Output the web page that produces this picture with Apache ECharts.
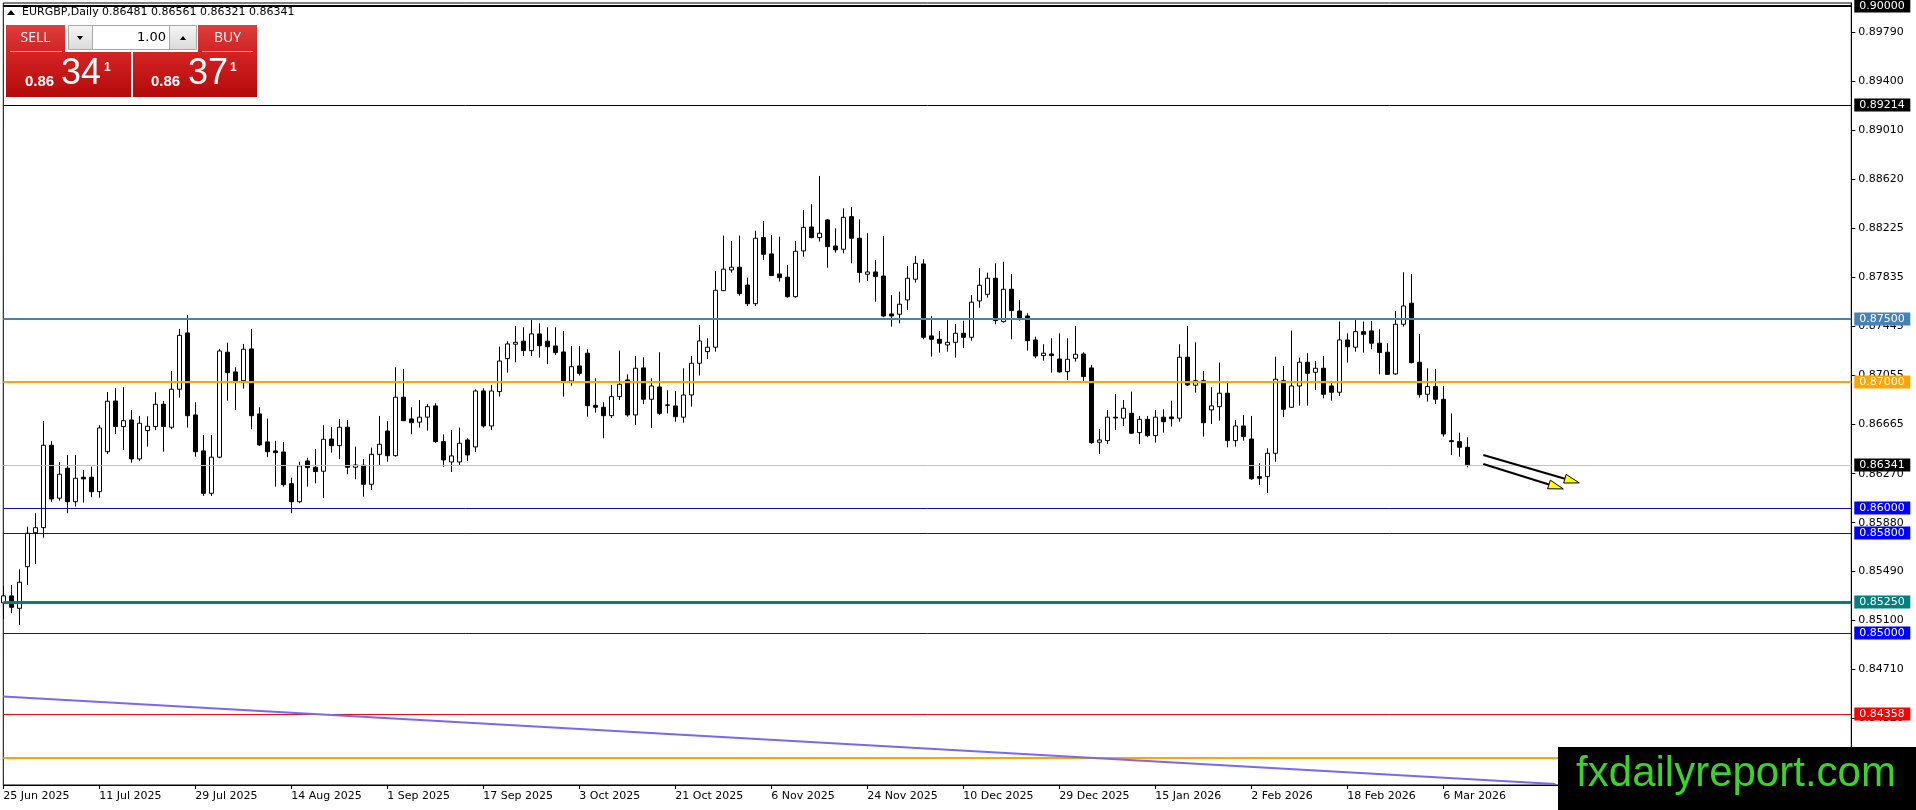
<!DOCTYPE html>
<html>
<head>
<meta charset="utf-8">
<title>EURGBP,Daily</title>
<script src="https://cdn.jsdelivr.net/npm/echarts@6/dist/echarts.min.js"></script>
<style>
html, body { margin: 0; padding: 0; background: #fff; }
#chart { width: 1916px; height: 810px; }
</style>
</head>
<body>
<div id="chart"></div>
<script type="text/javascript">
// daily bars, first bar = 25 Jun 2025
var opens = [0.85240,0.85296,0.85197,0.85529,0.85800,0.85840,0.86497,0.86075,0.86314,0.86047,0.86242,0.86242,0.86127,0.86446,0.86850,0.86646,0.86699,0.86388,0.86614,0.86646,
0.86824,0.86641,0.86944,0.87393,0.86739,0.86452,0.86114,0.86402,0.87239,0.87082,0.87012,0.87265,0.86747,0.86524,0.86452,0.86444,0.86191,0.86047,0.86372,0.86322,
0.86290,0.86547,0.86494,0.86641,0.86322,0.86338,0.86186,0.86425,0.86611,0.86414,0.86880,0.86707,0.86681,0.86721,0.86811,0.86526,0.86364,0.86364,0.86539,0.86484,
0.86930,0.86651,0.86925,0.87188,0.87303,0.87327,0.87252,0.87385,0.87327,0.87289,0.87241,0.87010,0.87130,0.87231,0.86816,0.86800,0.86733,0.86885,0.87018,0.86739,
0.87114,0.86864,0.86962,0.86819,0.86811,0.86721,0.86898,0.87151,0.87244,0.87279,0.87730,0.87895,0.87917,0.87775,0.87626,0.88153,0.88023,0.87863,0.87837,0.87682,
0.88047,0.88238,0.88153,0.88294,0.88086,0.88060,0.88320,0.88148,0.87861,0.87879,0.87847,0.87544,0.87542,0.87656,0.87821,0.87943,0.87369,0.87342,0.87297,0.87318,
0.87390,0.87358,0.87648,0.87701,0.87829,0.87483,0.87741,0.87568,0.87528,0.87337,0.87212,0.87225,0.87185,0.87084,0.87191,0.87225,0.87114,0.86521,0.86534,0.86721,
0.86713,0.86752,0.86598,0.86704,0.86574,0.86721,0.86723,0.86713,0.87199,0.86976,0.87012,0.86779,0.86805,0.86912,0.86534,0.86651,0.86547,0.86247,0.86247,0.86433,
0.87012,0.86800,0.86970,0.87159,0.87079,0.87111,0.86970,0.86920,0.87337,0.87279,0.87403,0.87409,0.87311,0.87239,0.87066,0.87462,0.87630,0.87159,0.86904,0.86965,
0.86864,0.86534,0.86526,0.86481];
var closes = [0.85296,0.85205,0.85405,0.85796,0.85840,0.86497,0.86069,0.86266,0.86047,0.86234,0.86229,0.86127,0.86635,0.86848,0.86646,0.86693,0.86388,0.86673,0.86649,0.86824,
0.86646,0.86944,0.87374,0.86733,0.86446,0.86114,0.86402,0.87249,0.87076,0.87012,0.87263,0.86733,0.86500,0.86446,0.86438,0.86183,0.86047,0.86332,0.86319,0.86287,
0.86545,0.86494,0.86641,0.86322,0.86340,0.86186,0.86425,0.86505,0.86414,0.86880,0.86693,0.86677,0.86721,0.86805,0.86526,0.86380,0.86412,0.86513,0.86420,0.86930,
0.86651,0.86930,0.87169,0.87305,0.87318,0.87252,0.87385,0.87291,0.87283,0.87236,0.87010,0.87124,0.87071,0.86813,0.86800,0.86733,0.86885,0.86984,0.86739,0.87111,
0.86864,0.86970,0.86752,0.86816,0.86725,0.86898,0.87151,0.87329,0.87279,0.87733,0.87901,0.87917,0.87706,0.87626,0.88148,0.88020,0.87850,0.87834,0.87682,0.88044,
0.88235,0.88153,0.88188,0.88081,0.88055,0.88315,0.88148,0.87874,0.87879,0.87842,0.87528,0.87528,0.87622,0.87829,0.87948,0.87358,0.87342,0.87311,0.87318,0.87390,
0.87358,0.87638,0.87773,0.87829,0.87491,0.87741,0.87571,0.87510,0.87331,0.87209,0.87231,0.87212,0.87082,0.87183,0.87223,0.87045,0.86518,0.86539,0.86721,0.86715,
0.86792,0.86593,0.86704,0.86574,0.86721,0.86685,0.86709,0.87199,0.86978,0.87012,0.86677,0.86811,0.86912,0.86534,0.86651,0.86566,0.86230,0.86234,0.86433,0.87024,
0.86784,0.86970,0.87159,0.87071,0.87111,0.86904,0.86920,0.87337,0.87283,0.87403,0.87382,0.87311,0.87236,0.87063,0.87462,0.87608,0.87156,0.86901,0.86965,0.86864,
0.86587,0.86526,0.86481,0.86341];
var lows = [0.85112,0.85158,0.85064,0.85383,0.85551,0.85760,0.86047,0.86055,0.85955,0.86008,0.86040,0.86083,0.86079,0.86428,0.86587,0.86460,0.86358,0.86372,0.86486,0.86619,
0.86446,0.86625,0.86877,0.86638,0.86406,0.86093,0.86093,0.86394,0.86853,0.86779,0.86949,0.86625,0.86492,0.86402,0.86167,0.86167,0.85955,0.86035,0.86167,0.86194,
0.86075,0.86438,0.86386,0.86266,0.86226,0.86087,0.86141,0.86340,0.86366,0.86406,0.86691,0.86585,0.86638,0.86614,0.86516,0.86324,0.86284,0.86332,0.86372,0.86444,
0.86638,0.86619,0.86885,0.87076,0.87159,0.87209,0.87209,0.87196,0.87143,0.87217,0.86885,0.86972,0.87053,0.86725,0.86757,0.86553,0.86713,0.86858,0.86725,0.86659,
0.86824,0.86633,0.86739,0.86752,0.86685,0.86677,0.86805,0.87053,0.87185,0.87244,0.87728,0.87874,0.87690,0.87608,0.87608,0.87975,0.87847,0.87802,0.87674,0.87674,
0.88001,0.88148,0.88121,0.87913,0.88033,0.88028,0.87948,0.87794,0.87807,0.87642,0.87518,0.87443,0.87470,0.87576,0.87794,0.87342,0.87204,0.87236,0.87244,0.87196,
0.87271,0.87331,0.87594,0.87674,0.87462,0.87475,0.87342,0.87491,0.87252,0.87191,0.87172,0.87076,0.87076,0.87018,0.87164,0.87010,0.86510,0.86428,0.86508,0.86619,
0.86651,0.86587,0.86505,0.86561,0.86518,0.86598,0.86646,0.86685,0.86970,0.86917,0.86566,0.86667,0.86693,0.86481,0.86486,0.86534,0.86221,0.86181,0.86117,0.86366,
0.86721,0.86797,0.86813,0.86813,0.86938,0.86872,0.86853,0.86890,0.87156,0.87244,0.87236,0.87263,0.87063,0.87058,0.87058,0.87443,0.87150,0.86877,0.86845,0.86827,
0.86566,0.86420,0.86406,0.86321];
var highs = [0.85375,0.85383,0.85508,0.85848,0.85955,0.86691,0.86529,0.86362,0.86420,0.86420,0.86300,0.86327,0.86657,0.86922,0.86952,0.86960,0.86779,0.86731,0.86728,0.86920,
0.86850,0.87090,0.87425,0.87536,0.86840,0.86579,0.86579,0.87265,0.87315,0.87119,0.87305,0.87425,0.86800,0.86709,0.86532,0.86524,0.86239,0.86366,0.86398,0.86468,
0.86657,0.86643,0.86707,0.86699,0.86486,0.86386,0.86478,0.86731,0.86689,0.87119,0.87106,0.86800,0.86858,0.86827,0.86832,0.86584,0.86619,0.86638,0.86553,0.86944,
0.86952,0.86978,0.87283,0.87327,0.87449,0.87438,0.87496,0.87470,0.87438,0.87438,0.87409,0.87289,0.87289,0.87263,0.87031,0.86840,0.86978,0.87252,0.87063,0.87209,
0.87199,0.87031,0.87239,0.86936,0.86930,0.87111,0.87209,0.87456,0.87350,0.87887,0.88169,0.88126,0.88169,0.87834,0.88208,0.88286,0.88174,0.88161,0.87935,0.88126,
0.88374,0.88419,0.88645,0.88300,0.88227,0.88387,0.88397,0.88299,0.88188,0.87975,0.88166,0.87696,0.87722,0.87927,0.88007,0.87980,0.87528,0.87409,0.87496,0.87464,
0.87491,0.87696,0.87909,0.87874,0.87948,0.87961,0.87863,0.87656,0.87550,0.87363,0.87303,0.87350,0.87390,0.87350,0.87449,0.87239,0.87138,0.86627,0.86779,0.86906,
0.86858,0.86925,0.86731,0.86731,0.86779,0.86784,0.86853,0.87303,0.87449,0.87318,0.87090,0.86960,0.87156,0.86996,0.86699,0.86739,0.86731,0.86354,0.86473,0.87204,
0.87130,0.87411,0.87196,0.87231,0.87169,0.87209,0.86996,0.87483,0.87390,0.87496,0.87483,0.87488,0.87422,0.87311,0.87568,0.87877,0.87863,0.87385,0.87111,0.87106,
0.86970,0.86752,0.86598,0.86561];

// right price scale
var priceTicks = [0.89790,0.89400,0.89010,0.88620,0.88225,0.87835,0.87445,0.87055,0.86665,0.86270,0.85880,0.85490,0.85100,0.84710,0.84320,0.83930];
var priceMin = 0.837879;
var priceMax = 0.900239;

// horizontal levels drawn on the chart
var levelPrices = [0.90000, 0.89214, 0.87500, 0.87000, 0.86341, 0.86000, 0.85800, 0.85250, 0.85000, 0.84358, 0.84000];
var levelStyles = [
    {line: '#000000', box: '#000000', width: 2},
    {line: '#000000', box: '#000000', width: 1},
    {line: '#4682b4', box: '#4682b4', width: 2},
    {line: '#ffa500', box: '#ffa500', width: 2},
    {line: '#c0c0c0', box: '#000000', width: 1},
    {line: '#10109a', box: '#0000ff', width: 1},
    {line: '#10109a', box: '#0000ff', width: 1},
    {line: '#008080', box: '#008080', width: 3},
    {line: '#10109a', box: '#0000ff', width: 1},
    {line: '#e01010', box: '#ff0000', width: 1},
    {line: '#ffa500', box: null, width: 2}
];

// trend line anchors [bar, price] and the two arrows [bar1, price1, bar2, price2]
var trendPoints = [[0, 0.84494], [194, 0.83796]];
var arrows = [[185.1, 0.86420, 196.5, 0.86197], [185.0, 0.86348, 195.0, 0.86149]];

var shiftBars = 48;   // empty space on the right (chart shift)
var months = ['Jan','Feb','Mar','Apr','May','Jun','Jul','Aug','Sep','Oct','Nov','Dec'];
var closedDays = ['12-25', '01-01'];

// trading days (no weekends, no christmas / new year)
var dates = [];
var day = new Date(Date.UTC(2025, 5, 25));
while (dates.length < closes.length + shiftBars) {
    var wd = day.getUTCDay();
    var md = ('0' + (day.getUTCMonth() + 1)).slice(-2) + '-' + ('0' + day.getUTCDate()).slice(-2);
    if (wd !== 0 && wd !== 6 && closedDays.indexOf(md) < 0) {
        dates.push(day.getUTCDate() + ' ' + months[day.getUTCMonth()] + ' ' + day.getUTCFullYear());
    }
    day.setUTCDate(day.getUTCDate() + 1);
}

var candles = [];
for (var i = 0; i < closes.length; i++) {
    candles.push([opens[i], closes[i], lows[i], highs[i]]);
}

function showDate(index) {
    return index % 12 === 0 && index < closes.length;
}

var levelData = levelPrices.map(function (p, i) { return [0, p, i]; });

// level line across the grid + coloured price box on the scale
function renderLevel(params, api) {
    var st = levelStyles[api.value(2)];
    var price = api.value(1);
    var cs = params.coordSys;
    var y = Math.round(api.coord([0, price])[1]);
    var ly = st.width % 2 ? y + 0.5 : y;
    var kids = [{
        type: 'line',
        shape: {x1: cs.x, y1: ly, x2: cs.x + cs.width, y2: ly},
        style: {stroke: st.line, lineWidth: st.width}
    }];
    if (st.box) {
        kids.push({type: 'rect', shape: {x: cs.x + cs.width + 3, y: y - 6.5, width: 56, height: 13}, style: {fill: st.box}});
        kids.push({type: 'text', x: cs.x + cs.width + 8, y: y,
            style: {text: price.toFixed(5), fill: '#fff', font: '11px "DejaVu Sans"', verticalAlign: 'middle'}});
    }
    return {type: 'group', children: kids};
}

function renderArrow(params, api) {
    var s = api.coord([api.value(0), api.value(1)]);
    var e = api.coord([api.value(2), api.value(3)]);
    var a = Math.atan2(e[1] - s[1], e[0] - s[0]);
    var headLen = 15, headHalf = 4.5;
    var bx = e[0] - headLen * Math.cos(a), by = e[1] - headLen * Math.sin(a);
    var nx = -Math.sin(a) * headHalf, ny = Math.cos(a) * headHalf;
    return {
        type: 'group',
        children: [
            {type: 'line', shape: {x1: s[0], y1: s[1], x2: bx, y2: by}, style: {stroke: '#000', lineWidth: 2}},
            {type: 'polygon', shape: {points: [e, [bx + nx, by + ny], [bx - nx, by - ny]]},
             style: {fill: '#ffff00', stroke: '#000', lineWidth: 1}}
        ]
    };
}

function grad(c1, c2) {
    return {type: 'linear', x: 0, y: 0, x2: 0, y2: 1, colorStops: [{offset: 0, color: c1}, {offset: 1, color: c2}]};
}

var txt = '#ffffff';
var graphics = [
    // header line
    {type: 'polygon', shape: {points: [[7, 15], [11, 10], [15, 15]]}, style: {fill: '#000'}},
    {type: 'text', x: 22, y: 12, style: {text: 'EURGBP,Daily', fill: '#000', font: '11px "DejaVu Sans"', verticalAlign: 'middle'}},
    {type: 'text', x: 102, y: 12, style: {text: '0.86481 0.86561 0.86321 0.86341', fill: '#000', font: '11px "DejaVu Sans"', verticalAlign: 'middle'}},
    // one click panel
    {type: 'rect', shape: {x: 6, y: 25, width: 59, height: 27}, style: {fill: grad('#df3d3d', '#cf2424')}},
    {type: 'rect', shape: {x: 198, y: 25, width: 59, height: 27}, style: {fill: grad('#df3d3d', '#cf2424')}},
    {type: 'rect', shape: {x: 6, y: 52, width: 125, height: 45}, style: {fill: grad('#d42424', '#b30a0a')}},
    {type: 'rect', shape: {x: 133, y: 52, width: 124, height: 45}, style: {fill: grad('#d42424', '#b30a0a')}},
    {type: 'line', shape: {x1: 10, y1: 51.5, x2: 62, y2: 51.5}, style: {stroke: '#f2a6a6', lineWidth: 1}},
    {type: 'line', shape: {x1: 202, y1: 51.5, x2: 253, y2: 51.5}, style: {stroke: '#f2a6a6', lineWidth: 1}},
    {type: 'rect', shape: {x: 68.5, y: 25.5, width: 24, height: 24}, style: {fill: grad('#f6f6f6', '#dadada'), stroke: '#a8a8a8', lineWidth: 1}},
    {type: 'rect', shape: {x: 92.5, y: 25.5, width: 77, height: 24}, style: {fill: '#fff', stroke: '#a8a8a8', lineWidth: 1}},
    {type: 'rect', shape: {x: 169.5, y: 25.5, width: 27, height: 24}, style: {fill: grad('#f6f6f6', '#dadada'), stroke: '#a8a8a8', lineWidth: 1}},
    {type: 'polygon', shape: {points: [[77, 36], [83, 36], [80, 40]]}, style: {fill: '#000'}},
    {type: 'polygon', shape: {points: [[180, 40], [186, 40], [183, 36]]}, style: {fill: '#000'}},
    {type: 'text', x: 166, y: 38, style: {text: '1.00', fill: '#000', font: '13px "DejaVu Sans"', align: 'right', verticalAlign: 'middle'}},
    {type: 'text', x: 35.5, y: 38.5, style: {text: 'SELL', fill: txt, font: '14px "Open Sans"', align: 'center', verticalAlign: 'middle'}},
    {type: 'text', x: 227.5, y: 38.5, style: {text: 'BUY', fill: txt, font: '14px "Open Sans"', align: 'center', verticalAlign: 'middle'}},
    {type: 'text', x: 25, y: 81.5, style: {text: '0.86', fill: txt, font: 'bold 15px "Liberation Sans"', verticalAlign: 'middle'}},
    {type: 'text', x: 61, y: 74, style: {text: '34', fill: txt, font: '36px "Liberation Sans"', verticalAlign: 'middle'}},
    {type: 'text', x: 104, y: 67.5, style: {text: '1', fill: txt, font: 'bold 12px "Liberation Sans"', verticalAlign: 'middle'}},
    {type: 'text', x: 151, y: 81.5, style: {text: '0.86', fill: txt, font: 'bold 15px "Liberation Sans"', verticalAlign: 'middle'}},
    {type: 'text', x: 188, y: 74, style: {text: '37', fill: txt, font: '36px "Liberation Sans"', verticalAlign: 'middle'}},
    {type: 'text', x: 230, y: 67.5, style: {text: '1', fill: txt, font: 'bold 12px "Liberation Sans"', verticalAlign: 'middle'}},
    // watermark
    {type: 'rect', shape: {x: 1558, y: 747, width: 358, height: 63}, style: {fill: '#000'}},
    {type: 'text', x: 1736, y: 774, style: {text: 'fxdailyreport.com', fill: '#3ad22b', font: '42px "Liberation Sans"', align: 'center', verticalAlign: 'middle'}}
];
graphics.forEach(function (g) { g.z = 100; g.silent = true; });

var myChart = echarts.init(document.getElementById('chart'));
myChart.setOption({
    animation: false,
    backgroundColor: '#ffffff',
    textStyle: {fontFamily: 'DejaVu Sans'},
    grid: {
        left: 3.3, top: 3, width: 1848, height: 782,
        show: true, borderColor: '#000', borderWidth: 1, backgroundColor: '#fff',
        outerBoundsMode: 'none'
    },
    xAxis: {
        type: 'category',
        data: dates,
        boundaryGap: false,
        axisLine: {show: true, lineStyle: {color: '#000', width: 1}},
        axisTick: {show: true, interval: showDate, length: 4, lineStyle: {color: '#000'}},
        axisLabel: {interval: showDate, align: 'left', margin: 6, color: '#000', fontSize: 11, fontFamily: 'DejaVu Sans'},
        splitLine: {show: false}
    },
    yAxis: {
        type: 'value',
        position: 'right',
        scale: true,
        min: priceMin,
        max: priceMax,
        axisLine: {show: true, lineStyle: {color: '#000'}},
        axisTick: {show: true, length: 4, customValues: priceTicks, lineStyle: {color: '#000'}},
        axisLabel: {
            customValues: priceTicks, margin: 7, align: 'left', color: '#000', fontSize: 11, fontFamily: 'DejaVu Sans',
            formatter: function (v) { return v.toFixed(5); }
        },
        splitLine: {show: false}
    },
    graphic: graphics,
    series: [
        {
            name: 'EURGBP',
            type: 'candlestick',
            data: candles,
            barWidth: 4,
            clip: true,
            itemStyle: {color: '#ffffff', color0: '#000000', borderColor: '#000000', borderColor0: '#000000', borderWidth: 1}
        },
        {
            name: 'levels',
            type: 'custom',
            data: levelData,
            encode: {x: 0, y: 1},
            renderItem: renderLevel,
            clip: false,
            silent: true,
            z: 3
        },
        {
            name: 'trend',
            type: 'line',
            data: trendPoints,
            symbol: 'none',
            clip: true,
            z: 4,
            lineStyle: {color: '#7b68ee', width: 2}
        },
        {
            name: 'arrows',
            type: 'custom',
            data: arrows,
            encode: {x: [0, 2], y: [1, 3]},
            renderItem: renderArrow,
            clip: false,
            silent: true,
            z: 5
        }
    ]
});
</script>
</body>
</html>
